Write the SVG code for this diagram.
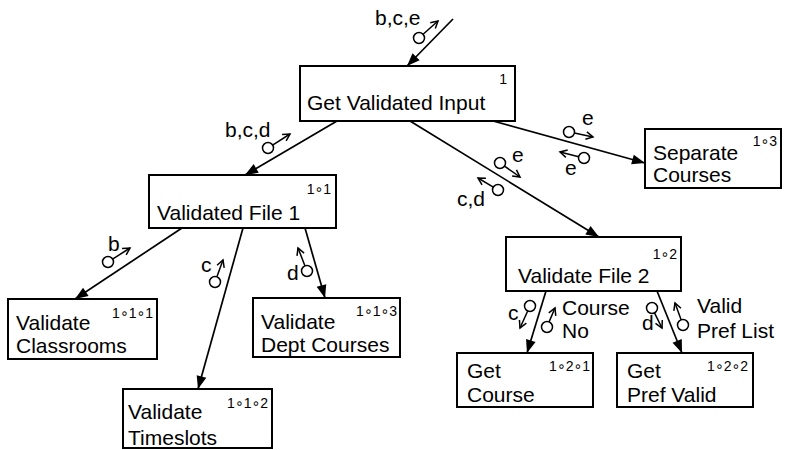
<svg xmlns="http://www.w3.org/2000/svg" width="789" height="450" viewBox="0 0 789 450">
<style>
text{font-family:"Liberation Sans","DejaVu Sans",Arial,sans-serif;fill:#000}
.t{font-size:21px}
.n{font-size:14px;text-anchor:end}
.box{fill:#fff;stroke:#000;stroke-width:2}
.conn{fill:none;stroke:#000;stroke-width:1.7;marker-end:url(#arr)}
.cc{fill:#fff;stroke:#000;stroke-width:1.5}
.ct{fill:none;stroke:#000;stroke-width:1.5;marker-end:url(#open)}
</style>
<defs>
<marker id="arr" viewBox="-14 -7 15 14" markerWidth="15" markerHeight="14" refX="0" refY="0" orient="auto" markerUnits="userSpaceOnUse">
<path d="M-13,-5 L0,0 L-13,5 z" fill="#000"/>
</marker>
<marker id="open" viewBox="-9 -6 11 12" markerWidth="11" markerHeight="12" refX="0" refY="0" orient="auto" markerUnits="userSpaceOnUse">
<path d="M-7,-3.8 L0,0 L-7,3.8" fill="none" stroke="#000" stroke-width="1.5"/>
</marker>
</defs>
<rect width="789" height="450" fill="#fff"/>
<g id="connectors">
<line class="conn" x1="453" y1="19" x2="407" y2="66"/>
<line class="conn" x1="337" y1="121" x2="245" y2="175"/>
<line class="conn" x1="410" y1="121" x2="599" y2="237"/>
<line class="conn" x1="493" y1="121" x2="645" y2="163"/>
<line class="conn" x1="182" y1="228" x2="75" y2="299"/>
<line class="conn" x1="243" y1="228" x2="198" y2="389"/>
<line class="conn" x1="305" y1="228" x2="325" y2="298"/>
<line class="conn" x1="546" y1="291" x2="527" y2="353"/>
<line class="conn" x1="657" y1="291" x2="682" y2="353"/>
<g id="couples">
<line class="ct" x1="423.1" y1="34.3" x2="438" y2="21"/><circle class="cc" cx="419" cy="38" r="5.5"/><text class="t" x="375" y="25">b,c,e</text>
<line class="ct" x1="272.6" y1="145.1" x2="290" y2="134"/><circle class="cc" cx="268" cy="148" r="5.5"/><text class="t" x="225" y="137">b,c,d</text>
<line class="ct" x1="574.4" y1="133.1" x2="593" y2="137"/><circle class="cc" cx="569" cy="132" r="5.5"/><text class="t" x="582" y="125">e</text>
<line class="ct" x1="578.7" y1="156.7" x2="560" y2="152"/><circle class="cc" cx="584" cy="158" r="5.5"/><text class="t" x="565" y="175">e</text>
<line class="ct" x1="504.5" y1="166.2" x2="520" y2="177"/><circle class="cc" cx="500" cy="163" r="5.5"/><text class="t" x="512" y="162">e</text>
<line class="ct" x1="493.3" y1="187.2" x2="478" y2="178"/><circle class="cc" cx="498" cy="190" r="5.5"/><text class="t" x="457" y="206">c,d</text>
<line class="ct" x1="112.6" y1="259.1" x2="130" y2="248"/><circle class="cc" cx="108" cy="262" r="5.5"/><text class="t" x="108" y="251">b</text>
<line class="ct" x1="216.9" y1="276.8" x2="223" y2="260"/><circle class="cc" cx="215" cy="282" r="5.5"/><text class="t" x="201" y="272">c</text>
<line class="ct" x1="305" y1="265.9" x2="298" y2="248"/><circle class="cc" cx="307" cy="271" r="5.5"/><text class="t" x="287" y="280">d</text>
<line class="ct" x1="527.7" y1="311" x2="520" y2="328"/><circle class="cc" cx="530" cy="306" r="5.5"/><text class="t" x="508" y="320">c</text>
<line class="ct" x1="549.1" y1="321.9" x2="555" y2="308"/><circle class="cc" cx="547" cy="327" r="5.5"/><text class="t" x="562" y="315">Course</text><text class="t" x="562" y="338">No</text>
<line class="ct" x1="654.5" y1="312.9" x2="662" y2="328"/><circle class="cc" cx="652" cy="308" r="5.5"/><text class="t" x="642" y="330">d</text>
<line class="ct" x1="681.1" y1="319.8" x2="675" y2="303"/><circle class="cc" cx="683" cy="325" r="5.5"/><text class="t" x="697" y="313">Valid</text><text class="t" x="697" y="338">Pref List</text>
</g>
</g>
<g id="n1">
<rect class="box" x="300" y="66" width="215" height="55"/>
<text class="n" x="507" y="84">1</text>
<text class="t" x="307" y="110">Get Validated Input</text>
</g>
<g id="n1-1">
<rect class="box" x="149" y="175" width="187" height="53"/>
<text class="n" x="331" y="194">1∘1</text>
<text class="t" x="157" y="220">Validated File 1</text>
</g>
<g id="n1-1-1">
<rect class="box" x="8" y="299" width="149" height="60"/>
<text class="n" x="153" y="318">1∘1∘1</text>
<text class="t" x="16" y="330">Validate</text>
<text class="t" x="16" y="353">Classrooms</text>
</g>
<g id="n1-1-2">
<rect class="box" x="123" y="389" width="149" height="59"/>
<text class="n" x="268" y="408">1∘1∘2</text>
<text class="t" x="128" y="419">Validate</text>
<text class="t" x="128" y="445">Timeslots</text>
</g>
<g id="n1-1-3">
<rect class="box" x="253" y="298" width="147" height="59"/>
<text class="n" x="397" y="316">1∘1∘3</text>
<text class="t" x="261" y="329">Validate</text>
<text class="t" x="261" y="352">Dept Courses</text>
</g>
<g id="n1-2">
<rect class="box" x="506" y="237" width="175" height="54"/>
<text class="n" x="677" y="259">1∘2</text>
<text class="t" x="518" y="283">Validate File 2</text>
</g>
<g id="n1-2-1">
<rect class="box" x="457" y="353" width="136" height="54"/>
<text class="n" x="590" y="371">1∘2∘1</text>
<text class="t" x="467" y="378">Get</text>
<text class="t" x="467" y="402">Course</text>
</g>
<g id="n1-2-2">
<rect class="box" x="617" y="353" width="136" height="54"/>
<text class="n" x="748" y="371">1∘2∘2</text>
<text class="t" x="627" y="378">Get</text>
<text class="t" x="627" y="402">Pref Valid</text>
</g>
<g id="n1-3">
<rect class="box" x="645" y="129" width="136" height="59"/>
<text class="n" x="777" y="146">1∘3</text>
<text class="t" x="653" y="160">Separate</text>
<text class="t" x="653" y="182">Courses</text>
</g>
</svg>
